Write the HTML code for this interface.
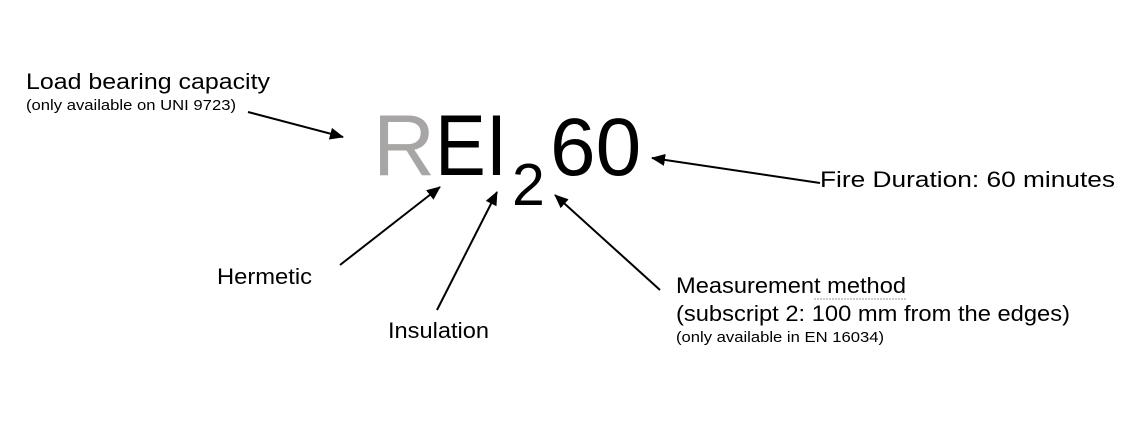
<!DOCTYPE html>
<html><head><meta charset="utf-8"><style>
html,body{margin:0;padding:0;background:#fff;width:1140px;height:430px;overflow:hidden}
svg{display:block;font-family:"Liberation Sans",Arial,sans-serif}
</style></head><body>
<svg width="1140" height="430" viewBox="0 0 1140 430">
<defs>
<marker id="b" viewBox="0 0 14 12" markerWidth="14" markerHeight="12" refX="13" refY="6" orient="auto" markerUnits="userSpaceOnUse"><path d="M0,0 L14,6 L0,12 z" fill="#000"/></marker></defs>
<text x="373" y="175" font-size="86" fill="#a8a5a5">R</text>
<text x="435" y="175" font-size="86" fill="#000" textLength="72" lengthAdjust="spacingAndGlyphs">EI</text>
<text x="512" y="205" font-size="59" fill="#000">2</text>
<text x="550" y="175" font-size="82" fill="#000">60</text>
<text x="26" y="89" font-size="22" textLength="244" lengthAdjust="spacingAndGlyphs">Load bearing capacity</text>
<text x="26" y="110" font-size="15" textLength="210" lengthAdjust="spacingAndGlyphs">(only available on UNI 9723)</text>
<text x="820" y="187" font-size="22" textLength="295" lengthAdjust="spacingAndGlyphs">Fire Duration: 60 minutes</text>
<text x="217" y="284" font-size="22" textLength="95" lengthAdjust="spacingAndGlyphs">Hermetic</text>
<text x="388" y="338" font-size="22" textLength="101" lengthAdjust="spacingAndGlyphs">Insulation</text>
<text x="676" y="293" font-size="22" textLength="230" lengthAdjust="spacingAndGlyphs">Measurement method</text>
<line x1="814" y1="299" x2="906" y2="299" stroke="#999" stroke-width="1" stroke-dasharray="2,1"/>
<text x="676" y="321" font-size="22" textLength="394" lengthAdjust="spacingAndGlyphs">(subscript 2: 100 mm from the edges)</text>
<text x="676" y="342" font-size="15" textLength="208" lengthAdjust="spacingAndGlyphs">(only available in EN 16034)</text>
<g stroke="#000" stroke-width="2" fill="none">
<line x1="248" y1="112" x2="343" y2="137" marker-end="url(#b)"/>
<line x1="820" y1="183" x2="652" y2="158" marker-end="url(#b)"/>
<line x1="340" y1="265" x2="440" y2="187" marker-end="url(#b)"/>
<line x1="437" y1="310" x2="497" y2="192" marker-end="url(#b)"/>
<line x1="660" y1="290" x2="555" y2="195" marker-end="url(#b)"/>
</g>
</svg>
</body></html>
